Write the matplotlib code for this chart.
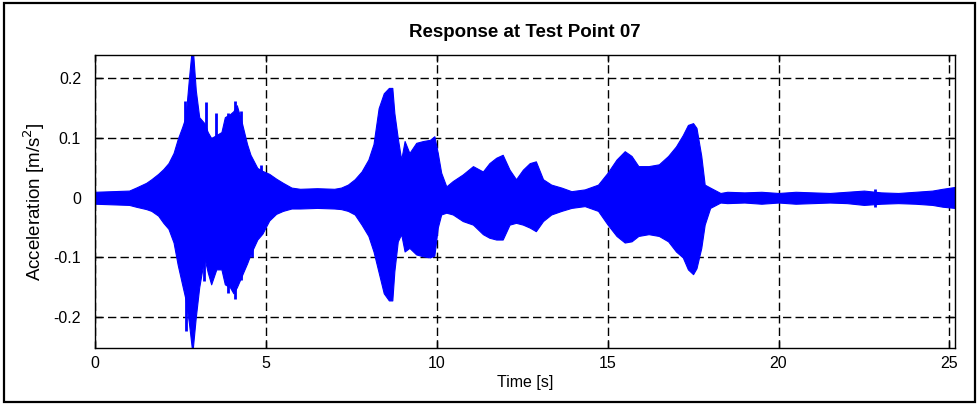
"""
Acceleration response recorded at test point 07.
The oscillation is dense, so it is drawn as its upper/lower envelope
plus a handful of isolated peaks in the first burst.
"""

import matplotlib
matplotlib.use("Agg")
import matplotlib.pyplot as plt
from matplotlib.patches import Rectangle


# -----------------------------------------------------------------------------
# 1. DATA
# -----------------------------------------------------------------------------
# envelope of the response, time in s, acceleration in m/s^2
t_env = [0.0, 0.5, 1.0, 1.2, 1.5, 1.65, 1.85, 2.0, 2.15, 2.3, 2.42, 2.55,
         2.65, 2.75, 2.85, 2.95, 3.05, 3.2, 3.3, 3.4, 3.55, 3.7, 3.8, 3.95,
         4.05, 4.15, 4.3, 4.45, 4.55, 4.75, 4.9, 5.1, 5.3, 5.5, 5.75, 6.0,
         6.5, 7.0, 7.2, 7.4, 7.6, 7.8, 8.0, 8.15, 8.3, 8.45, 8.6, 8.7, 8.76,
         8.86, 8.96, 9.06, 9.2, 9.4, 9.6, 9.8, 9.93, 10.03, 10.13, 10.28,
         10.47, 10.76, 11.06, 11.35, 11.54, 11.74, 11.93, 12.13, 12.32,
         12.52, 12.72, 12.9, 13.11, 13.35, 13.65, 13.94, 14.33, 14.72, 15.0,
         15.26, 15.5, 15.7, 15.9, 16.2, 16.5, 16.77, 17.0, 17.2, 17.35,
         17.5, 17.6, 17.74, 17.84, 18.0, 18.3, 18.5, 19.0, 19.5, 20.0, 20.5,
         21.0, 21.5, 22.0, 22.5, 23.0, 23.5, 24.0, 24.5, 24.8, 25.15]
env_hi = [0.010, 0.011, 0.012, 0.017, 0.025, 0.031, 0.040, 0.048, 0.058,
          0.075, 0.098, 0.118, 0.135, 0.200, 0.260, 0.180, 0.135, 0.125,
          0.110, 0.100, 0.105, 0.110, 0.135, 0.140, 0.145, 0.155, 0.125,
          0.090, 0.072, 0.050, 0.045, 0.040, 0.032, 0.025, 0.017, 0.015,
          0.016, 0.015, 0.017, 0.022, 0.031, 0.044, 0.064, 0.090, 0.150,
          0.175, 0.184, 0.184, 0.142, 0.100, 0.064, 0.095, 0.075, 0.092,
          0.095, 0.097, 0.103, 0.075, 0.042, 0.019, 0.028, 0.039, 0.053,
          0.044, 0.058, 0.067, 0.072, 0.047, 0.031, 0.047, 0.058, 0.061,
          0.031, 0.022, 0.017, 0.011, 0.014, 0.022, 0.042, 0.064, 0.078,
          0.070, 0.053, 0.053, 0.056, 0.070, 0.086, 0.105, 0.122, 0.125,
          0.117, 0.070, 0.022, 0.017, 0.008, 0.010, 0.009, 0.010, 0.008,
          0.010, 0.009, 0.008, 0.010, 0.012, 0.009, 0.008, 0.010, 0.012,
          0.015, 0.018]
env_lo = [-0.010, -0.011, -0.012, -0.015, -0.019, -0.022, -0.030, -0.042,
          -0.052, -0.075, -0.112, -0.145, -0.170, -0.210, -0.260, -0.200,
          -0.150, -0.100, -0.125, -0.145, -0.120, -0.120, -0.145, -0.150,
          -0.160, -0.150, -0.130, -0.110, -0.095, -0.070, -0.060, -0.038,
          -0.027, -0.022, -0.018, -0.018, -0.017, -0.018, -0.019, -0.022,
          -0.028, -0.045, -0.064, -0.090, -0.125, -0.160, -0.172, -0.172,
          -0.123, -0.073, -0.061, -0.090, -0.084, -0.095, -0.098, -0.100,
          -0.097, -0.050, -0.028, -0.025, -0.028, -0.039, -0.045, -0.061,
          -0.067, -0.070, -0.070, -0.045, -0.042, -0.045, -0.050, -0.056,
          -0.039, -0.028, -0.022, -0.017, -0.014, -0.022, -0.045, -0.064,
          -0.075, -0.073, -0.064, -0.061, -0.064, -0.073, -0.090, -0.100,
          -0.120, -0.128, -0.118, -0.084, -0.045, -0.017, -0.008, -0.009,
          -0.008, -0.010, -0.008, -0.010, -0.009, -0.008, -0.009, -0.012,
          -0.010, -0.009, -0.010, -0.012, -0.015, -0.017]

# isolated peaks sticking out of the envelope
peak_t = [2.62, 2.67, 3.2, 3.25, 3.55, 3.9, 4.1, 4.28, 4.6, 4.85, 22.82]
peak_hi = [0.162, 0.10, 0.09, 0.160, 0.142, 0.142, 0.162, 0.145, 0.06,
           0.055, 0.015]
peak_lo = [-0.10, -0.223, -0.140, -0.10, -0.09, -0.160, -0.170, -0.138,
           -0.100, -0.05, -0.016]

x_ticks = [0, 5, 10, 15, 20, 25]
y_ticks = [-0.2, -0.1, 0, 0.1, 0.2]


# -----------------------------------------------------------------------------
# 2. CHART
# -----------------------------------------------------------------------------
def plot_response(output_file="out.png"):
    plt.rcParams["font.family"] = ["Liberation Sans", "DejaVu Sans"]
    plt.rcParams["axes.unicode_minus"] = False

    fig = plt.figure(figsize=(9.79, 4.05), dpi=100)
    ax = fig.add_axes([0.097, 0.141, 0.878, 0.723])

    ax.fill_between(t_env, env_lo, env_hi, color="#0000ff",
                    linewidth=0.8, edgecolor="#0000ff")
    ax.vlines(peak_t, peak_lo, peak_hi, color="#0000ff", linewidth=2.0)

    ax.set_xlim(0, 25.15)
    ax.set_ylim(-0.2515, 0.239)
    ax.set_xticks(x_ticks)
    ax.set_yticks(y_ticks)
    ax.set_yticklabels([f"{v:g}" for v in y_ticks])

    ax.grid(True, color="black", linestyle=(0, (6, 3)), linewidth=1.0)
    ax.set_axisbelow(True)
    ax.tick_params(direction="in", top=True, right=True, length=5,
                   labelsize=11.5, width=1.0)
    ax.tick_params(axis="y", pad=10)
    ax.tick_params(axis="x", pad=6)
    for spine in ax.spines.values():
        spine.set_linewidth(1.0)
        spine.set_zorder(3)

    ax.set_title("Response at Test Point 07", fontsize=13.5,
                 fontweight="bold", pad=13)
    ax.set_xlabel("Time [s]", fontsize=11.5, labelpad=3)
    ax.set_ylabel("Acceleration [m/s$^2$]", fontsize=13.5, labelpad=5)

    # frame around the whole figure
    fig.patches.append(Rectangle((0.004, 0.008), 0.992, 0.984,
                                 transform=fig.transFigure, fill=False,
                                 edgecolor="black", linewidth=1.6))

    fig.savefig(output_file, dpi=100)
    plt.close(fig)


if __name__ == "__main__":
    plot_response()
